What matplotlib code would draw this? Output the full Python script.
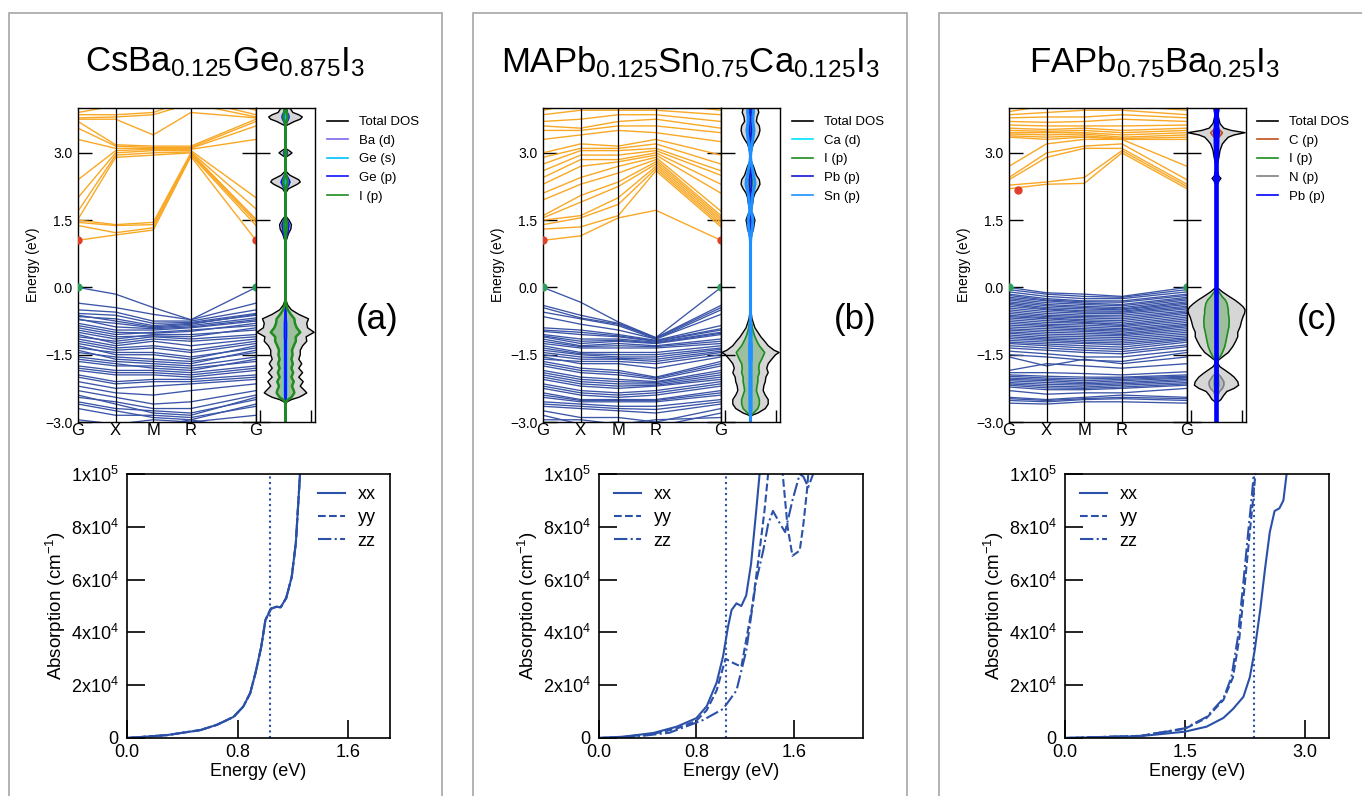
import matplotlib
matplotlib.use("Agg")
import matplotlib.pyplot as plt
from matplotlib.lines import Line2D
from matplotlib.patches import Rectangle
import numpy as np

plt.rcParams['font.family'] = ['Liberation Sans', 'DejaVu Sans']
plt.rcParams['mathtext.fontset'] = 'custom'
plt.rcParams['mathtext.rm'] = 'Liberation Sans'
plt.rcParams['mathtext.it'] = 'Liberation Sans:italic'
plt.rcParams['mathtext.bf'] = 'Liberation Sans:bold'
plt.rcParams['axes.unicode_minus'] = True

# ---------------- data ----------------
TITLES = [r"CsBa$_{0.125}$Ge$_{0.875}$I$_3$",
          r"MAPb$_{0.125}$Sn$_{0.75}$Ca$_{0.125}$I$_3$",
          r"FAPb$_{0.75}$Ba$_{0.25}$I$_3$"]
PANEL_TAGS = ["(a)", "(b)", "(c)"]
K_POS = [0.0, 1.0, 2.0, 3.0, 4.73]
K_LABELS = ["G", "X", "M", "R", "G"]
E_TICKS = [-3.0, -1.5, 0.0, 1.5, 3.0]

# band energies (eV) at G, X, M, R, G
A_VB = [[0.00, -0.15, -0.45, -0.72, 0.00], [-0.35, -0.45, -0.60, -0.72, -0.35],
        [-0.50, -0.55, -0.75, -0.75, -0.50], [-0.58, -0.62, -0.80, -0.78, -0.58],
        [-0.62, -0.75, -0.88, -0.82, -0.60], [-0.65, -0.70, -0.85, -0.80, -0.62],
        [-0.70, -0.88, -0.92, -0.88, -0.72], [-0.72, -0.80, -0.90, -0.85, -0.68],
        [-0.80, -0.95, -0.95, -0.90, -0.75], [-0.85, -1.00, -1.02, -0.98, -0.80],
        [-0.90, -1.05, -1.00, -0.95, -0.85], [-0.95, -1.10, -1.08, -1.10, -0.90],
        [-1.00, -1.15, -1.05, -1.05, -0.95], [-1.05, -1.25, -1.15, -1.20, -1.10],
        [-1.10, -1.20, -1.10, -1.15, -1.05], [-1.15, -1.30, -1.20, -1.30, -1.15],
        [-1.20, -1.35, -1.30, -1.40, -1.20], [-1.25, -1.40, -1.35, -1.45, -1.25],
        [-1.30, -1.50, -1.50, -1.60, -1.30], [-1.35, -1.45, -1.45, -1.55, -1.35],
        [-1.40, -1.60, -1.65, -1.70, -1.40], [-1.45, -1.55, -1.60, -1.65, -1.45],
        [-1.55, -1.65, -1.70, -1.75, -1.55], [-1.60, -1.70, -1.80, -1.85, -1.60],
        [-1.65, -1.75, -1.75, -1.80, -1.65], [-1.75, -1.85, -1.85, -1.90, -1.75],
        [-1.80, -1.90, -1.90, -1.95, -1.80], [-1.85, -1.95, -1.95, -2.00, -1.85],
        [-1.95, -2.10, -2.05, -2.05, -1.95], [-2.00, -2.15, -2.10, -2.10, -2.00],
        [-2.10, -2.25, -2.20, -2.15, -2.05], [-2.20, -2.35, -2.40, -2.30, -2.15],
        [-2.30, -2.45, -2.60, -2.55, -2.30], [-2.40, -2.60, -2.80, -2.85, -2.45],
        [-2.45, -2.55, -2.70, -2.70, -2.40], [-2.55, -2.70, -2.75, -2.80, -2.50],
        [-2.60, -2.75, -2.90, -2.95, -2.60], [-2.70, -2.85, -2.85, -2.90, -2.65],
        [-2.95, -3.05, -2.95, -3.00, -2.85], [-3.10, -3.30, -3.10, -2.95, -3.20]]
A_CB = [[1.05, 1.17, 1.28, 2.92, 1.05], [1.38, 1.22, 1.33, 2.95, 1.38],
        [1.45, 1.38, 1.40, 2.97, 1.45], [1.50, 1.40, 1.45, 3.00, 1.50],
        [1.52, 2.90, 2.95, 3.00, 1.52], [1.70, 2.95, 3.00, 3.02, 1.75],
        [2.00, 3.00, 3.05, 3.05, 2.00], [2.40, 3.05, 3.08, 3.08, 3.30],
        [3.30, 3.10, 3.10, 3.10, 3.60], [3.55, 3.15, 3.12, 3.12, 3.70],
        [3.70, 3.18, 3.15, 3.15, 3.75], [3.75, 3.75, 3.40, 3.90, 3.78],
        [3.78, 3.80, 3.85, 4.10, 3.80], [3.85, 3.85, 3.90, 4.20, 3.85],
        [3.90, 4.05, 4.05, 4.30, 3.95]]
B_VB = [[0.00, -0.33, -0.77, -1.12, 0.00], [-0.40, -0.62, -0.80, -1.12, -0.40],
        [-0.45, -0.68, -0.82, -1.13, -0.45], [-0.55, -0.70, -0.85, -1.15, -0.50],
        [-0.65, -0.82, -0.95, -1.15, -0.60], [-0.90, -0.95, -1.05, -1.18, -0.85],
        [-0.95, -1.00, -1.08, -1.19, -0.92], [-0.98, -1.05, -1.10, -1.20, -0.95],
        [-1.05, -1.15, -1.15, -1.22, -1.00], [-1.08, -1.20, -1.18, -1.24, -1.02],
        [-1.10, -1.25, -1.20, -1.25, -1.05], [-1.15, -1.30, -1.25, -1.30, -1.15],
        [-1.20, -1.32, -1.30, -1.32, -1.20], [-1.25, -1.35, -1.35, -1.35, -1.25],
        [-1.30, -1.45, -1.45, -1.45, -1.30], [-1.35, -1.48, -1.50, -1.50, -1.35],
        [-1.40, -1.50, -1.55, -1.55, -1.38], [-1.45, -1.55, -1.58, -1.60, -1.42],
        [-1.50, -1.60, -1.60, -1.65, -1.45], [-1.55, -1.70, -1.70, -1.80, -1.55],
        [-1.60, -1.65, -1.65, -1.70, -1.50], [-1.65, -1.80, -1.85, -2.00, -1.65],
        [-1.70, -1.85, -1.90, -2.02, -1.70], [-1.75, -1.90, -1.95, -2.05, -1.75],
        [-1.85, -2.00, -2.05, -2.10, -1.85], [-1.90, -2.05, -2.10, -2.12, -1.90],
        [-1.95, -2.10, -2.15, -2.15, -1.95], [-2.00, -2.15, -2.20, -2.18, -2.00],
        [-2.05, -2.20, -2.25, -2.20, -2.05], [-2.15, -2.30, -2.35, -2.30, -2.10],
        [-2.20, -2.35, -2.40, -2.35, -2.15], [-2.25, -2.40, -2.45, -2.40, -2.20],
        [-2.35, -2.50, -2.50, -2.50, -2.30], [-2.40, -2.52, -2.52, -2.52, -2.35],
        [-2.45, -2.55, -2.55, -2.55, -2.40], [-2.55, -2.60, -2.65, -2.65, -2.50],
        [-2.60, -2.65, -2.70, -2.72, -2.55], [-2.65, -2.70, -2.75, -2.80, -2.60],
        [-2.75, -2.90, -2.90, -3.00, -2.70], [-2.85, -3.05, -3.00, -3.10, -2.80],
        [-2.95, -2.95, -3.05, -2.95, -2.90]]
B_CB = [[1.05, 1.15, 1.55, 1.72, 1.05], [1.30, 1.35, 1.60, 2.60, 1.35],
        [1.40, 1.55, 1.85, 2.65, 1.40], [1.50, 1.60, 2.00, 2.70, 1.45],
        [1.55, 1.90, 2.25, 2.75, 1.50], [1.60, 2.05, 2.35, 2.80, 1.55],
        [1.95, 2.30, 2.55, 2.85, 1.60], [2.10, 2.45, 2.70, 2.90, 1.70],
        [2.30, 2.70, 2.80, 2.95, 2.10], [2.45, 2.85, 2.85, 3.00, 2.30],
        [2.60, 2.95, 2.95, 3.05, 2.50], [2.75, 3.05, 3.05, 3.10, 2.60],
        [2.90, 3.10, 3.10, 3.20, 2.75], [3.00, 3.20, 3.15, 3.30, 2.95],
        [3.30, 3.40, 3.50, 3.45, 3.25], [3.50, 3.50, 3.60, 3.60, 3.45],
        [3.60, 3.55, 3.70, 3.75, 3.55], [3.70, 3.75, 3.85, 3.85, 3.70],
        [3.85, 3.95, 3.95, 3.95, 3.85], [3.95, 4.10, 4.05, 4.10, 3.95]]
C_VB = [[0.00, -0.12, -0.15, -0.20, 0.00], [-0.05, -0.15, -0.20, -0.22, -0.05],
        [-0.10, -0.20, -0.25, -0.25, -0.10], [-0.15, -0.25, -0.30, -0.30, -0.15],
        [-0.18, -0.28, -0.32, -0.33, -0.18], [-0.22, -0.30, -0.35, -0.38, -0.22],
        [-0.25, -0.34, -0.38, -0.41, -0.25], [-0.28, -0.38, -0.42, -0.45, -0.28],
        [-0.32, -0.41, -0.45, -0.48, -0.32], [-0.35, -0.45, -0.48, -0.50, -0.35],
        [-0.38, -0.48, -0.52, -0.53, -0.38], [-0.42, -0.50, -0.55, -0.55, -0.42],
        [-0.46, -0.54, -0.58, -0.58, -0.45], [-0.50, -0.58, -0.62, -0.62, -0.48],
        [-0.54, -0.62, -0.65, -0.66, -0.52], [-0.58, -0.65, -0.68, -0.70, -0.55],
        [-0.62, -0.68, -0.72, -0.74, -0.58], [-0.65, -0.70, -0.75, -0.78, -0.62],
        [-0.68, -0.74, -0.78, -0.82, -0.66], [-0.72, -0.78, -0.80, -0.85, -0.70],
        [-0.76, -0.82, -0.84, -0.88, -0.74], [-0.80, -0.85, -0.88, -0.92, -0.78],
        [-0.84, -0.88, -0.92, -0.95, -0.82], [-0.88, -0.92, -0.95, -0.98, -0.85],
        [-0.92, -0.96, -0.98, -1.02, -0.88], [-0.95, -1.00, -1.02, -1.05, -0.92],
        [-0.99, -1.04, -1.06, -1.08, -0.96], [-1.02, -1.08, -1.10, -1.12, -1.00],
        [-1.06, -1.12, -1.14, -1.16, -1.04], [-1.10, -1.15, -1.18, -1.20, -1.08],
        [-1.14, -1.18, -1.22, -1.24, -1.12], [-1.18, -1.22, -1.25, -1.28, -1.15],
        [-1.22, -1.26, -1.30, -1.33, -1.18], [-1.25, -1.30, -1.35, -1.38, -1.22],
        [-1.30, -1.35, -1.40, -1.43, -1.28], [-1.35, -1.40, -1.45, -1.48, -1.32],
        [-1.42, -1.48, -1.55, -1.55, -1.40], [-1.50, -1.55, -1.62, -1.65, -1.45],
        [-1.55, -1.75, -1.60, -1.70, -1.55], [-1.85, -1.70, -1.75, -1.80, -1.70],
        [-1.90, -1.90, -1.92, -1.95, -1.88], [-1.95, -1.98, -2.00, -2.00, -1.95],
        [-1.98, -2.02, -2.04, -2.02, -1.98], [-2.02, -2.05, -2.08, -2.05, -2.00],
        [-2.05, -2.08, -2.12, -2.08, -2.02], [-2.08, -2.12, -2.15, -2.12, -2.05],
        [-2.12, -2.16, -2.18, -2.15, -2.08], [-2.15, -2.20, -2.22, -2.18, -2.12],
        [-2.18, -2.24, -2.25, -2.22, -2.15], [-2.22, -2.28, -2.28, -2.25, -2.18],
        [-2.30, -2.38, -2.35, -2.35, -2.25], [-2.45, -2.50, -2.45, -2.40, -2.45],
        [-2.48, -2.52, -2.48, -2.45, -2.48], [-2.52, -2.55, -2.50, -2.48, -2.52],
        [-2.58, -2.60, -2.55, -2.55, -2.58]]
C_CB = [[2.20, 2.30, 2.32, 3.00, 2.20], [2.28, 2.35, 2.45, 3.05, 2.25],
        [2.40, 2.90, 3.10, 3.10, 2.30], [2.45, 3.00, 3.15, 3.20, 2.40],
        [2.70, 3.20, 3.30, 3.30, 2.70], [3.35, 3.30, 3.35, 3.30, 3.30],
        [3.38, 3.35, 3.38, 3.32, 3.35], [3.42, 3.40, 3.42, 3.35, 3.40],
        [3.45, 3.45, 3.45, 3.40, 3.45], [3.50, 3.48, 3.50, 3.45, 3.50],
        [3.55, 3.52, 3.55, 3.50, 3.55], [3.62, 3.60, 3.60, 3.60, 3.62],
        [3.70, 3.68, 3.70, 3.75, 3.70], [3.78, 3.80, 3.80, 3.85, 3.78],
        [3.85, 3.90, 3.95, 3.95, 3.85], [3.92, 4.05, 4.05, 4.05, 3.95]]

# band-edge markers (k, E)
A_CBM = [(0.0, 1.05), (4.73, 1.05)]
B_CBM = [(0.0, 1.05), (4.73, 1.05)]
C_CBM = [(0.24, 2.18)]
VBM_PTS = [(0.0, 0.0), (4.73, 0.0)]

# DOS (mirrored half-widths)
A_DOS_E = [-3.0, -2.6, -2.55, -2.5, -2.45, -2.4, -2.35, -2.3, -2.2, -2.1,
           -2.0, -1.9, -1.8, -1.7, -1.6, -1.5, -1.4, -1.3, -1.2, -1.1,
           -1.0, -0.9, -0.8, -0.7, -0.6, -0.5, -0.4, -0.3, -0.2, 1.0,
           1.1, 1.2, 1.3, 1.4, 1.5, 1.6, 2.1, 2.2, 2.3, 2.35,
           2.4, 2.5, 2.6, 2.9, 2.95, 3.0, 3.05, 3.1, 3.6, 3.7,
           3.75, 3.8, 3.85, 3.9, 4.0]
A_DOS_TOT = [0, 0, 0.05, 0.2, 0.45, 0.6, 0.72, 0.65, 0.5, 0.6,
             0.45, 0.58, 0.45, 0.55, 0.45, 0.5, 0.5, 0.58, 0.72, 0.7,
             0.97, 0.75, 0.72, 0.78, 0.45, 0.2, 0.08, 0.02, 0, 0,
             0.05, 0.1, 0.18, 0.2, 0.12, 0, 0, 0.1, 0.4, 0.5,
             0.45, 0.15, 0, 0, 0.12, 0.22, 0.12, 0, 0, 0.3,
             0.5, 0.57, 0.45, 0.25, 0.15]
A_DOS_BAD = [0] * 49 + [0.01, 0.02, 0.03, 0.02, 0.01, 0.01]
A_DOS_GES = [0, 0, 0, 0.02, 0.03, 0.04, 0.04, 0.04, 0.04, 0.04,
             0.04, 0.04, 0.04, 0.04, 0.04, 0.04, 0.04, 0.04, 0.04, 0.04,
             0.04, 0.04, 0.04, 0.03, 0.02, 0.01, 0, 0, 0, 0,
             0, 0, 0, 0, 0, 0, 0, 0, 0, 0,
             0, 0, 0, 0, 0, 0, 0, 0, 0, 0,
             0, 0, 0, 0, 0]
A_DOS_GEP = [0, 0, 0, 0.01, 0.02, 0.02, 0.02, 0.02, 0.02, 0.02,
             0.02, 0.02, 0.02, 0.02, 0.02, 0.02, 0.02, 0.02, 0.02, 0.03,
             0.03, 0.03, 0.03, 0.02, 0.02, 0.01, 0, 0, 0, 0,
             0.03, 0.07, 0.1, 0.12, 0.06, 0, 0, 0.04, 0.12, 0.15,
             0.12, 0.04, 0, 0, 0.04, 0.07, 0.04, 0, 0, 0.06,
             0.1, 0.12, 0.1, 0.06, 0.04]
A_DOS_IP = [0, 0, 0.02, 0.08, 0.2, 0.25, 0.3, 0.28, 0.22, 0.28,
            0.2, 0.26, 0.2, 0.25, 0.2, 0.24, 0.22, 0.28, 0.35, 0.35,
            0.5, 0.38, 0.32, 0.3, 0.18, 0.08, 0.03, 0.01, 0, 0,
            0.01, 0.02, 0.04, 0.05, 0.03, 0, 0, 0.02, 0.06, 0.08,
            0.06, 0.02, 0, 0, 0.02, 0.03, 0.02, 0, 0, 0.03,
            0.06, 0.07, 0.06, 0.04, 0.03]

B_DOS_E = [-3.0, -2.9, -2.85, -2.8, -2.7, -2.6, -2.5, -2.4, -2.3, -2.2,
           -2.1, -2.0, -1.9, -1.8, -1.7, -1.6, -1.5, -1.45, -1.4, -1.3,
           -1.2, -1.1, -1.0, -0.9, -0.8, -0.7, -0.6, -0.5, -0.4, 1.0,
           1.1, 1.2, 1.3, 1.4, 1.5, 1.6, 1.7, 1.8, 1.9, 2.0,
           2.1, 2.2, 2.3, 2.4, 2.5, 2.6, 2.7, 2.8, 2.9, 3.0,
           3.1, 3.2, 3.3, 3.4, 3.5, 3.6, 3.7, 3.8, 3.9, 4.0]
B_DOS_TOT = [0, 0, 0.05, 0.25, 0.5, 0.6, 0.6, 0.5, 0.43, 0.45,
             0.5, 0.52, 0.6, 0.55, 0.6, 0.72, 0.85, 0.97, 0.8, 0.6,
             0.48, 0.35, 0.25, 0.15, 0.1, 0.05, 0.03, 0.01, 0, 0,
             0.02, 0.05, 0.1, 0.12, 0.15, 0.1, 0.03, 0.05, 0.08, 0.1,
             0.15, 0.25, 0.32, 0.3, 0.2, 0.15, 0.1, 0.03, 0, 0.02,
             0.05, 0.1, 0.2, 0.28, 0.32, 0.3, 0.2, 0.22, 0.28, 0.25]
B_DOS_CAD = [0] * 60
B_DOS_IP = [0, 0, 0.02, 0.1, 0.25, 0.3, 0.3, 0.25, 0.2, 0.22,
            0.25, 0.25, 0.3, 0.28, 0.3, 0.38, 0.45, 0.48, 0.42, 0.3,
            0.22, 0.15, 0.1, 0.06, 0.04, 0.02, 0.01, 0, 0, 0,
            0.01, 0.01, 0.02, 0.02, 0.03, 0.02, 0.01, 0.01, 0.02, 0.02,
            0.03, 0.04, 0.05, 0.05, 0.04, 0.03, 0.02, 0.01, 0, 0,
            0.01, 0.02, 0.03, 0.04, 0.05, 0.05, 0.03, 0.03, 0.04, 0.04]
B_DOS_PBP = [0] * 29 + [0, 0, 0.01, 0.01, 0.02, 0.02, 0.01, 0, 0.01, 0.01, 0.01,
                        0.02, 0.02, 0.03, 0.03, 0.02, 0.01, 0.01, 0, 0, 0,
                        0, 0.01, 0.02, 0.02, 0.03, 0.03, 0.02, 0.02, 0.02, 0.02]
B_DOS_SNP = [0, 0, 0, 0.01, 0.02, 0.02, 0.02, 0.02, 0.02, 0.02,
             0.02, 0.02, 0.02, 0.02, 0.02, 0.03, 0.03, 0.03, 0.03, 0.03,
             0.02, 0.02, 0.02, 0.01, 0.01, 0, 0, 0, 0, 0,
             0.01, 0.03, 0.06, 0.07, 0.08, 0.06, 0.02, 0.03, 0.05, 0.06,
             0.08, 0.12, 0.15, 0.14, 0.1, 0.08, 0.05, 0.02, 0, 0.01,
             0.03, 0.05, 0.08, 0.1, 0.12, 0.1, 0.08, 0.08, 0.1, 0.09]

C_DOS_E = [-3.0, -2.6, -2.55, -2.5, -2.4, -2.32, -2.25, -2.18, -2.1, -2.0,
           -1.92, -1.85, -1.77, -1.7, -1.63, -1.55, -1.45, -1.32, -1.2, -1.1,
           -1.0, -0.88, -0.75, -0.65, -0.58, -0.5, -0.43, -0.36, -0.28, -0.21,
           -0.1, 0.0, 0.05, 2.3, 2.35, 2.43, 2.5, 2.6, 2.75, 2.9,
           3.06, 3.2, 3.28, 3.35, 3.4, 3.45, 3.5, 3.55, 3.65, 3.75,
           3.84, 3.92, 4.0]
C_DOS_TOT = [0, 0, 0.05, 0.15, 0.25, 0.35, 0.6, 0.75, 0.72, 0.6,
             0.45, 0.3, 0.12, 0.05, 0.05, 0.2, 0.4, 0.55, 0.65, 0.72,
             0.72, 0.8, 0.85, 0.9, 0.95, 0.97, 0.9, 0.78, 0.62, 0.45,
             0.2, 0.02, 0, 0, 0.05, 0.15, 0.05, 0.03, 0.03, 0.08,
             0.12, 0.2, 0.3, 0.4, 0.6, 0.97, 0.5, 0.25, 0.12, 0.08,
             0.05, 0.07, 0.09]
C_DOS_CP = [0] * 43 + [0.08, 0.15, 0.2, 0.12, 0.05, 0, 0, 0, 0, 0]
C_DOS_IP = [0, 0, 0, 0.02, 0.04, 0.05, 0.06, 0.07, 0.07, 0.06,
            0.05, 0.05, 0.05, 0.03, 0.03, 0.12, 0.2, 0.28, 0.32, 0.35,
            0.38, 0.42, 0.43, 0.42, 0.4, 0.4, 0.38, 0.36, 0.3, 0.2,
            0.08, 0.01, 0, 0, 0.01, 0.02, 0.01, 0, 0, 0.01,
            0.01, 0.02, 0.03, 0.04, 0.05, 0.06, 0.04, 0.03, 0.01, 0.01,
            0, 0, 0]
C_DOS_NP = [0, 0, 0, 0.02, 0.05, 0.1, 0.2, 0.25, 0.25, 0.15,
            0.05, 0.02, 0, 0, 0, 0, 0, 0, 0, 0,
            0, 0, 0, 0, 0, 0, 0, 0, 0, 0,
            0, 0, 0, 0, 0, 0, 0, 0, 0, 0,
            0, 0, 0, 0.02, 0.04, 0.05, 0.03, 0.01, 0, 0,
            0, 0, 0]
C_DOS_PBP = [0] * 34 + [0.02, 0.04, 0.02, 0, 0, 0.01, 0.02, 0.03, 0.03, 0.03,
                        0.04, 0.05, 0.04, 0.03, 0.02, 0.02, 0.01, 0.02, 0.02]

# absorption (units of 1e4 cm^-1)
A_ABS_E = [0.0, 0.29, 0.53, 0.65, 0.77, 0.84, 0.89, 0.93, 0.97, 1.00, 1.04, 1.08, 1.11, 1.15, 1.19, 1.22, 1.25, 1.28]
A_ABS_XX = [0, 0.11, 0.3, 0.5, 0.8, 1.19, 1.7, 2.5, 3.46, 4.47, 4.9, 4.97, 4.95, 5.3, 6.1, 7.4, 10.0, 11.5]
A_ABS_YY = [0, 0.11, 0.3, 0.5, 0.8, 1.19, 1.7, 2.5, 3.46, 4.47, 4.9, 4.97, 4.95, 5.3, 6.1, 7.4, 10.0, 11.5]
A_ABS_ZZ = [0, 0.11, 0.3, 0.5, 0.8, 1.19, 1.7, 2.5, 3.46, 4.47, 4.9, 4.97, 4.95, 5.3, 6.1, 7.4, 10.0, 11.5]
B_XX_E = [0.0, 0.2, 0.447, 0.64, 0.80, 0.885, 0.967, 1.02, 1.06, 1.09, 1.13, 1.17, 1.21, 1.25, 1.29, 1.32, 1.35]
B_XX = [0, 0.05, 0.19, 0.43, 0.75, 1.2, 2.1, 3.1, 4.2, 4.85, 5.1, 5.0, 5.4, 6.6, 8.5, 10.0, 11.5]
B_YY_E = [0.0, 0.2, 0.45, 0.64, 0.80, 0.885, 0.967, 1.04, 1.10, 1.17, 1.26, 1.32, 1.36, 1.39, 1.45,
          1.51, 1.55, 1.59, 1.65, 1.68, 1.71, 1.72, 1.75]
B_YY = [0, 0.04, 0.16, 0.36, 0.65, 1.05, 1.8, 3.0, 2.85, 2.7, 5.0, 7.1, 8.6, 10.0, 11.0,
        10.0, 8.0, 6.9, 7.1, 8.1, 9.4, 10.0, 10.8]
B_ZZ_E = [0.0, 0.3, 0.58, 0.855, 1.02, 1.13, 1.21, 1.29, 1.35, 1.39, 1.43, 1.49, 1.53, 1.59, 1.65,
          1.68, 1.72, 1.76, 1.8]
B_ZZ = [0, 0.05, 0.2, 0.68, 1.1, 1.8, 3.3, 5.9, 7.1, 8.1, 8.6, 8.1, 7.8, 9.0, 10.0,
        9.9, 9.5, 10.0, 10.5]
C_XX_E = [0.0, 0.94, 1.5, 1.77, 1.98, 2.1, 2.23, 2.31, 2.37, 2.44, 2.5, 2.56, 2.62, 2.68, 2.73, 2.77, 2.8]
C_XX = [0, 0.07, 0.24, 0.43, 0.76, 1.1, 1.56, 2.3, 3.3, 4.85, 6.4, 7.8, 8.6, 8.7, 9.0, 10.0, 10.8]
C_YY_E = [0.0, 0.94, 1.5, 1.77, 1.98, 2.1, 2.18, 2.25, 2.31, 2.35, 2.38, 2.41]
C_YY = [0, 0.08, 0.35, 0.76, 1.44, 2.3, 3.8, 5.9, 7.8, 9.0, 10.0, 11.0]
C_ZZ_E = [0.0, 0.94, 1.5, 1.77, 1.98, 2.08, 2.16, 2.23, 2.29, 2.33, 2.36, 2.39]
C_ZZ = [0, 0.08, 0.37, 0.8, 1.5, 2.3, 3.8, 5.9, 7.8, 9.0, 10.0, 11.0]
GAPS = [1.03, 1.044, 2.36]
ABS_XMAX = [1.9, 2.17, 3.3]
ABS_XTICKS = [[0.0, 0.8, 1.6], [0.0, 0.8, 1.6], [0.0, 1.5, 3.0]]
ABS_YTICKS = [0, 2, 4, 6, 8, 10]
ABS_YLABELS = ["0", r"2x10$^4$", r"4x10$^4$", r"6x10$^4$", r"8x10$^4$", r"1x10$^5$"]

# ---------------- styles ----------------
W, H = 1362, 796
CB_COL = '#F9A825'
VB_COL = '#3B55A8'
ABS_COL = '#2A50A8'

fig = plt.figure(figsize=(W / 100, H / 100), dpi=100)


def add_ax(x0, y0, x1, y1):
    return fig.add_axes([x0 / W, 1 - y1 / H, (x1 - x0) / W, (y1 - y0) / H])


# frames
for fx0, fx1 in [(9, 442), (473, 907), (939, 1375)]:
    fig.add_artist(Rectangle((fx0 / W, -0.05), (fx1 - fx0) / W, 1 - 13 / H + 0.05,
                             transform=fig.transFigure, fill=False, ec='#a6a6a6', lw=1.2))

panels = [
    dict(band=(78, 256, 315), absx=(127, 390), title_x=225, tag_x=377, leg_x=327, abs_leg=318,
         vb=A_VB, cb=A_CB, cbm=A_CBM, dosE=A_DOS_E, tot=A_DOS_TOT,
         pdos=[("Ba (d)", A_DOS_BAD, '#7B68EE', 1.2), ("Ge (s)", A_DOS_GES, '#00BFFF', 1.2),
               ("Ge (p)", A_DOS_GEP, '#1010FF', 1.2), ("I (p)", A_DOS_IP, '#1E8C1E', 1.8)],
         abs=[(A_ABS_E, A_ABS_XX), (A_ABS_E, A_ABS_YY), (A_ABS_E, A_ABS_ZZ)]),
    dict(band=(543, 721, 780), absx=(599, 863), title_x=690, tag_x=855, leg_x=792, abs_leg=614,
         vb=B_VB, cb=B_CB, cbm=B_CBM, dosE=B_DOS_E, tot=B_DOS_TOT,
         pdos=[("Ca (d)", B_DOS_CAD, '#00E5FF', 1.2), ("I (p)", B_DOS_IP, '#1E8C1E', 1.2),
               ("Pb (p)", B_DOS_PBP, '#1515D0', 1.2), ("Sn (p)", B_DOS_SNP, '#1E90FF', 2.2)],
         abs=[(B_XX_E, B_XX), (B_YY_E, B_YY), (B_ZZ_E, B_ZZ)]),
    dict(band=(1009, 1187, 1246), absx=(1065, 1329), title_x=1155, tag_x=1317, leg_x=1257, abs_leg=1080,
         vb=C_VB, cb=C_CB, cbm=C_CBM, dosE=C_DOS_E, tot=C_DOS_TOT,
         pdos=[("C (p)", C_DOS_CP, '#C0501A', 1.2), ("I (p)", C_DOS_IP, '#1E8C1E', 1.2),
               ("N (p)", C_DOS_NP, '#808080', 1.2), ("Pb (p)", C_DOS_PBP, '#0000FF', 3.0)],
         abs=[(C_XX_E, C_XX), (C_YY_E, C_YY), (C_ZZ_E, C_ZZ)]),
]

for i, p in enumerate(panels):
    bx0, bx1, dx1 = p['band']
    fig.text(p['title_x'] / W, 1 - 62 / H, TITLES[i], ha='center', va='center', fontsize=25)
    fig.text(p['tag_x'] / W, 1 - 320 / H, PANEL_TAGS[i], ha='center', va='center', fontsize=25)

    # band structure
    ax = add_ax(bx0, 108, bx1, 422)
    for b in p['vb']:
        ax.plot(K_POS, b, color=VB_COL, lw=0.95)
    for b in p['cb']:
        ax.plot(K_POS, b, color=CB_COL, lw=1.0)
    ax.vlines(K_POS[1:4], -3, 4, color='black', lw=0.9)
    for (kx, ey) in p['cbm']:
        ax.plot(kx, ey, 'o', color='#E0402A', ms=5, zorder=5)
    for (kx, ey) in VBM_PTS:
        ax.plot(kx, ey, 'o', color='#2CA05A', ms=5, zorder=5)
    ax.set_xlim(K_POS[0], K_POS[-1])
    ax.set_ylim(-3, 4)
    ax.set_xticks(K_POS)
    ax.set_xticklabels(K_LABELS, fontsize=12)
    ax.set_yticks(E_TICKS)
    ax.set_yticklabels([f"{v:.1f}".replace('-', '\u2212') for v in E_TICKS], fontsize=10)
    ax.tick_params(axis='x', length=0, pad=1)
    ax.tick_params(axis='y', direction='in', length=10, width=1, right=True, left=True, pad=4)
    ax.set_ylabel("Energy (eV)", fontsize=10, labelpad=4)
    for s in ax.spines.values():
        s.set_linewidth(1.0)

    # DOS
    ad = add_ax(bx1, 108, dx1, 422)
    E = np.array(p['dosE'])
    tot = np.array(p['tot'])
    ad.fill_betweenx(E, -tot, tot, color='#D6D6D6', lw=0)
    ad.plot(tot, E, color='black', lw=1.0)
    ad.plot(-tot, E, color='black', lw=1.0)
    handles = [Line2D([], [], color='black', lw=1.2, label='Total DOS')]
    for (lab, vals, col, lw) in p['pdos']:
        v = np.array(vals)
        ad.fill_betweenx(E, -v, v, color=col, alpha=0.3, lw=0)
        ad.plot(v, E, color=col, lw=lw)
        ad.plot(-v, E, color=col, lw=lw)
        handles.append(Line2D([], [], color=col, lw=1.2, label=lab))
    ad.set_xlim(-1.0, 1.0)
    ad.set_ylim(-3, 4)
    ad.set_yticks(E_TICKS)
    ad.set_yticklabels([])
    ad.set_xticks([-0.88, 0.88])
    ad.set_xticklabels([])
    ad.tick_params(axis='y', direction='in', length=10, width=1, left=True, right=False)
    ad.tick_params(axis='x', direction='in', length=9, width=1, bottom=True, top=False)
    for s in ad.spines.values():
        s.set_linewidth(1.0)
    fig.legend(handles=handles, loc='upper left', bbox_to_anchor=(p['leg_x'] / W, 1 - 116 / H),
               bbox_transform=fig.transFigure, frameon=False, fontsize=9.5, borderpad=0,
               borderaxespad=0, handlelength=1.6, handletextpad=0.8, labelspacing=0.48)

    # absorption
    ax0, ax1 = p['absx']
    aa = add_ax(ax0, 474, ax1, 738)
    styles = ['-', '--', '-.']
    labels = ['xx', 'yy', 'zz']
    lh = []
    for (ee, vv), ls, lab in zip(p['abs'], styles, labels):
        ln, = aa.plot(ee, vv, color=ABS_COL, lw=1.5, ls=ls, label=lab)
        lh.append(ln)
    aa.axvline(GAPS[i], color=ABS_COL, lw=1.5, ls=':')
    aa.set_xlim(0, ABS_XMAX[i])
    aa.set_ylim(0, 10)
    aa.set_xticks(ABS_XTICKS[i])
    aa.set_xticklabels([f"{v:.1f}" for v in ABS_XTICKS[i]], fontsize=13)
    aa.set_yticks(ABS_YTICKS)
    aa.set_yticklabels(ABS_YLABELS, fontsize=13)
    aa.tick_params(direction='in', length=13, width=1.2, top=False, right=False)
    aa.tick_params(axis='y', pad=6)
    aa.tick_params(axis='x', pad=4)
    aa.set_xlabel("Energy (eV)", fontsize=13, labelpad=2)
    aa.set_ylabel(r"Absorption (cm$^{-1}$)", fontsize=13.5, labelpad=2)
    for s in aa.spines.values():
        s.set_linewidth(1.2)
    fig.legend(handles=lh, loc='upper left', bbox_to_anchor=(p['abs_leg'] / W, 1 - 486 / H),
               bbox_transform=fig.transFigure, frameon=False, fontsize=13, borderpad=0,
               borderaxespad=0, handlelength=1.5, handletextpad=0.7, labelspacing=0.35)

fig.savefig("out.png", dpi=100)
